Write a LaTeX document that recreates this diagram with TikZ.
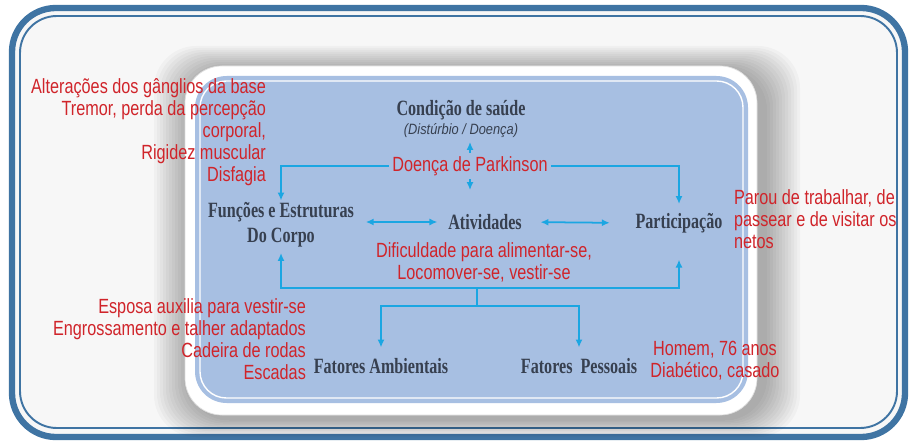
\documentclass[tikz,border=0pt]{standalone}
\usepackage{fontspec}
\setmainfont{Liberation Serif}
\newfontfamily\notefont[FakeStretch=0.79]{Liberation Sans}
\newfontfamily\subfont[FakeStretch=0.86]{Liberation Sans}
\newfontfamily\labfont[FakeStretch=0.74]{Liberation Serif}
\usetikzlibrary{arrows.meta, positioning, calc}
\definecolor{icfframe}{RGB}{63,116,163}
\definecolor{icfpanel}{RGB}{167,191,226}
\definecolor{icfarrow}{RGB}{27,166,226}
\definecolor{icfred}{RGB}{208,36,42}
\definecolor{icfdark}{RGB}{55,64,80}
\pgfdeclarelayer{back}
\pgfdeclarelayer{wires}
\pgfsetlayers{back,wires,main}

\begin{document}
\begin{tikzpicture}[
    x=0.02cm, y=-0.02cm,
    lab/.style={font=\labfont\fontsize{12.4}{14.2}\selectfont\bfseries, text=icfdark, align=center, inner sep=1pt},
    note/.style={font=\notefont\fontsize{11.7}{12.6}\selectfont, text=icfred, inner sep=1pt},
    arr/.style={-{Latex[length=4.5pt, width=4pt]}, line width=1pt, icfarrow},
    dbl/.style={{Latex[length=4.5pt, width=4pt]}-{Latex[length=4.5pt, width=4pt]}, line width=1pt, icfarrow},
    link/.style={line width=1pt, icfarrow}
]
\useasboundingbox (0,0) rectangle (912,442);

\begin{pgfonlayer}{back}
% Outer frame
\fill[gray!6, rounded corners=24pt] (12,8) rectangle (905,437);
\draw[icfframe, line width=3.6pt, rounded corners=25pt] (12,8) rectangle (905,437);
\draw[icfframe, line width=1.1pt, rounded corners=21pt] (20,16) rectangle (897,428);

% Soft shadow round the panel
\foreach \s in {1,...,12}
  \fill[black, opacity=0.026, rounded corners=24pt] (190-3*\s,70-2*\s) rectangle (764+3*\s,419+1.5*\s);

% Panel
\fill[white, rounded corners=21pt] (185,66) rectangle (757,415);
\draw[gray!25, rounded corners=21pt] (185,66) rectangle (757,415);
\fill[icfpanel, rounded corners=18pt] (195,76) rectangle (748,403);
\draw[white, line width=0.8pt, rounded corners=15pt] (200,81) rectangle (743,398);
\end{pgfonlayer}

% Labels of the model
\node[lab] (saude) at (461,119) {Condição de saúde\\[-3pt]{\subfont\fontsize{8.5}{10}\selectfont\itshape\mdseries (Distúrbio / Doença)}};
\node[note, fill=icfpanel, inner sep=2pt] (parkinson) at (470,166) {Doença de Parkinson};
\node[lab] (funcoes) at (281,225) {Funções e Estruturas\\Do Corpo};
\node[lab] (ativ) at (485,222) {Atividades};
\node[lab] (partic) at (679,223) {Participação};
\node[note, align=center] (dific) at (484,262) {Dificuldade para alimentar-se,\\Locomover-se, vestir-se};
\node[lab] (ambient) at (381,366) {Fatores Ambientais};
\node[lab] (pessoal) at (579,366) {Fatores\ \ Pessoais};

% Notes of the case
\node[note, align=right, anchor=east] (corponote) at (268,132) {Alterações dos gânglios da base\\Tremor, perda da percepção\\corporal,\\Rigidez muscular\\Disfagia};
\node[note, align=left, anchor=west] (partnote) at (732,219) {Parou de trabalhar, de\\passear e de visitar os\\netos};
\node[note, align=right, anchor=east] (ambnote) at (308,339) {Esposa auxilia para vestir-se\\Engrossamento e talher adaptados\\Cadeira de rodas\\Escadas};
\node[note, align=center] (pesnote) at (715,361) {Homem, 76 anos\\Diabético, casado};

% Connectors
\begin{pgfonlayer}{wires}
\coordinate (hub) at (477,288);
\coordinate (split) at (477,306);
\draw[dbl] ([yshift=6pt]parkinson.north) -- ([yshift=-6pt]parkinson.south);
\draw[arr] (parkinson.center) -| (funcoes.north);
\draw[arr] (parkinson.center) -| ([yshift=4pt]partic.north);
\draw[dbl, shorten <=5.5pt, shorten >=5pt] (funcoes.east |- ativ.west) -- (ativ.west);
\draw[dbl, shorten <=9.5pt, shorten >=13.5pt] (ativ.east) -- (partic.west);
\draw[arr] (hub) -| ([yshift=-2pt]funcoes.south);
\draw[arr] (hub) -| ([yshift=-14pt]partic.south);
\draw[link] (hub) -- (split);
\draw[arr] (split) -| ([yshift=5pt]ambient.north);
\draw[arr] (split) -| ([yshift=5pt]pessoal.north);
\end{pgfonlayer}

\end{tikzpicture}
\end{document}
